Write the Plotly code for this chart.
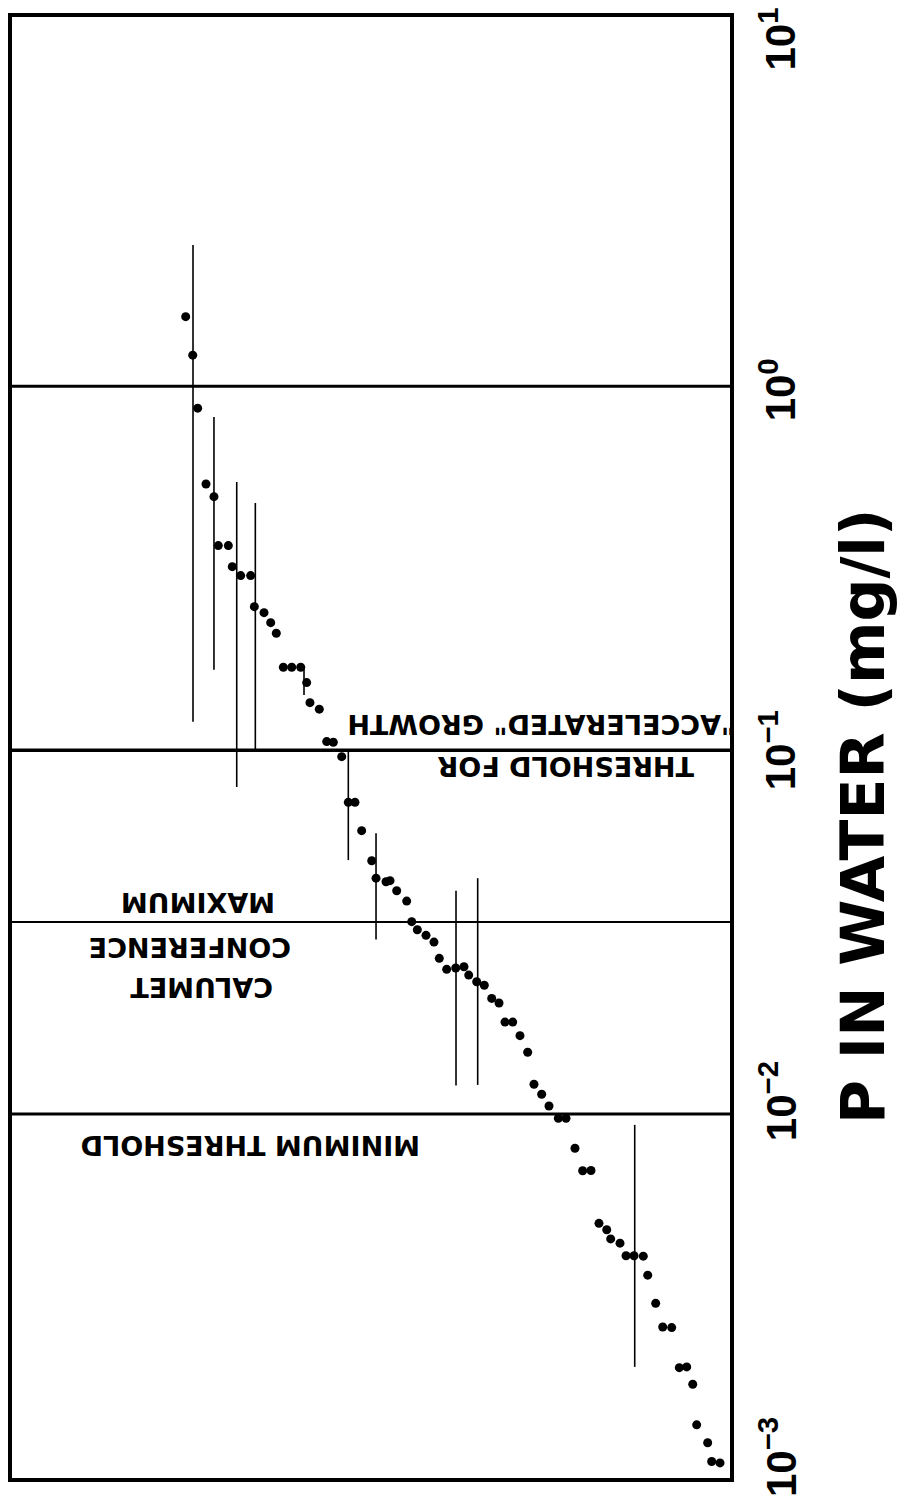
import numpy as np
import plotly.graph_objects as go

# ---- data ----
sample_position = [24.19, 25.17, 25.86, 27.02, 28.13, 28.73, 30.13, 30.68, 31.85, 33.24,
                   33.75, 35.10, 36.03, 36.81, 37.79, 38.96, 40.21, 41.04, 41.50, 42.80,
                   43.83, 44.75, 45.92, 46.84, 47.77, 48.70, 50.10, 50.70, 52.09, 52.65,
                   53.58, 54.97, 55.67, 56.45, 57.66, 58.77, 59.51, 60.54, 61.80, 62.95,
                   63.61, 64.72, 65.78, 66.81, 67.83, 68.66, 69.74, 70.75, 71.82, 72.70,
                   73.77, 74.79, 76.09, 77.16, 78.41, 79.48, 80.64, 81.75, 82.83, 83.38,
                   84.68, 85.52, 86.63, 87.92, 88.54, 89.65, 90.63, 91.88, 92.94, 93.97,
                   94.81, 95.36, 96.89, 97.45, 98.61]
p_in_water = [1.554, 1.218, 0.871, 0.539, 0.4975, 0.365, 0.365, 0.3195, 0.302, 0.302,
              0.248, 0.2388, 0.2242, 0.2097, 0.169, 0.169, 0.169, 0.1534, 0.1351, 0.1297,
              0.1056, 0.1052, 0.0960, 0.0719, 0.0719, 0.0601, 0.0497, 0.0445, 0.0435, 0.0438,
              0.0411, 0.0385, 0.0338, 0.0321, 0.0310, 0.0297, 0.0268, 0.0250, 0.0252, 0.0254,
              0.0241, 0.0231, 0.0226, 0.0208, 0.0202, 0.0179, 0.0179, 0.01643, 0.01479, 0.01208,
              0.01134, 0.01053, 0.00974, 0.00974, 0.00806, 0.00699, 0.00700, 0.00501, 0.00481, 0.00454,
              0.00442, 0.00408, 0.00408, 0.00407, 0.00361, 0.00302, 0.00260, 0.00259, 0.00201, 0.00202,
              0.00181, 0.00140, 0.00125, 0.00111, 0.00110]

bar_position = [25.21, 28.13, 31.30, 33.89, 40.67, 46.84, 50.70, 61.84, 64.86, 86.73]
bar_low = [0.1197, 0.1663, 0.0793, 0.0996, 0.1419, 0.0499, 0.0302, 0.01198, 0.01203, 0.00202]
bar_high = [2.447, 0.824, 0.546, 0.478, 0.168, 0.0996, 0.0591, 0.0411, 0.0445, 0.00934]

threshold_values = [1.0, 0.1, 0.01, 0.0337]

tick_values = [0.001, 0.01, 0.1, 1.0, 10.0]
tick_labels = ["10<sup>−3</sup>", "10<sup>−2</sup>", "10<sup>−1</sup>",
               "10<sup>0</sup>", "10<sup>1</sup>"]

# ---- figure ----
fig = go.Figure()

line_widths = [3, 3.5, 3, 2]
for v, w in zip(threshold_values, line_widths):
    fig.add_trace(go.Scatter(x=[0, 100], y=[v, v], mode="lines",
                             line=dict(color="black", width=w),
                             hoverinfo="skip", showlegend=False))

bx, by = [], []
for x, lo, hi in zip(bar_position, bar_low, bar_high):
    bx += [x, x, None]
    by += [lo, hi, None]
fig.add_trace(go.Scatter(x=bx, y=by, mode="lines",
                         line=dict(color="black", width=1.6),
                         hoverinfo="skip", showlegend=False))

fig.add_trace(go.Scatter(x=sample_position, y=p_in_water, mode="markers",
                         marker=dict(color="black", size=9),
                         showlegend=False))

txt_font = dict(family="DejaVu Sans", size=27, color="black", weight="bold")
texts = [
    ("MINIMUM THRESHOLD", 33.29, 0.00823),
    ("MAXIMUM", 25.91, 0.0380),
    ("CONFERENCE", 24.79, 0.0288),
    ("CALUMET", 26.32, 0.02236),
    ("THRESHOLD FOR", 77.16, 0.0906),
    ("\"ACCELERATED\" GROWTH", 73.68, 0.1173),
]
for t, x, y in texts:
    fig.add_annotation(text=t, x=x, y=np.log10(y), xref="x", yref="y",
                       textangle=180, showarrow=False, font=txt_font,
                       xanchor="center", yanchor="middle")

tick_shift = [21, 13, 0, -4, -17]
for v, lab, s in zip(tick_values, tick_labels, tick_shift):
    fig.add_annotation(text=lab, x=1.0669, y=np.log10(v), xref="paper", yref="y",
                       yshift=s, textangle=-90, showarrow=False,
                       font=dict(family="Liberation Sans", size=42, color="black", weight="bold"),
                       xanchor="center", yanchor="middle")

fig.add_annotation(text="P IN WATER (mg/l)", x=1.186, y=0.4528, xref="paper", yref="paper",
                   textangle=-90, showarrow=False,
                   font=dict(family="DejaVu Sans", size=60, color="black", weight="bold"),
                   xanchor="center", yanchor="middle")

fig.update_layout(
    width=904, height=1509, autosize=False,
    margin=dict(l=12, r=174, t=17, b=31),
    paper_bgcolor="white", plot_bgcolor="white",
    showlegend=False,
    xaxis=dict(range=[0, 100], showgrid=False, zeroline=False, showticklabels=False,
               ticks="", showline=True, mirror=True, linecolor="black", linewidth=4),
    yaxis=dict(type="log", range=[-3, 1.015], showgrid=False, zeroline=False,
               showticklabels=False, ticks="", showline=True, mirror=True,
               linecolor="black", linewidth=4),
)

fig.write_html("out.html", config={"displayModeBar": False})
